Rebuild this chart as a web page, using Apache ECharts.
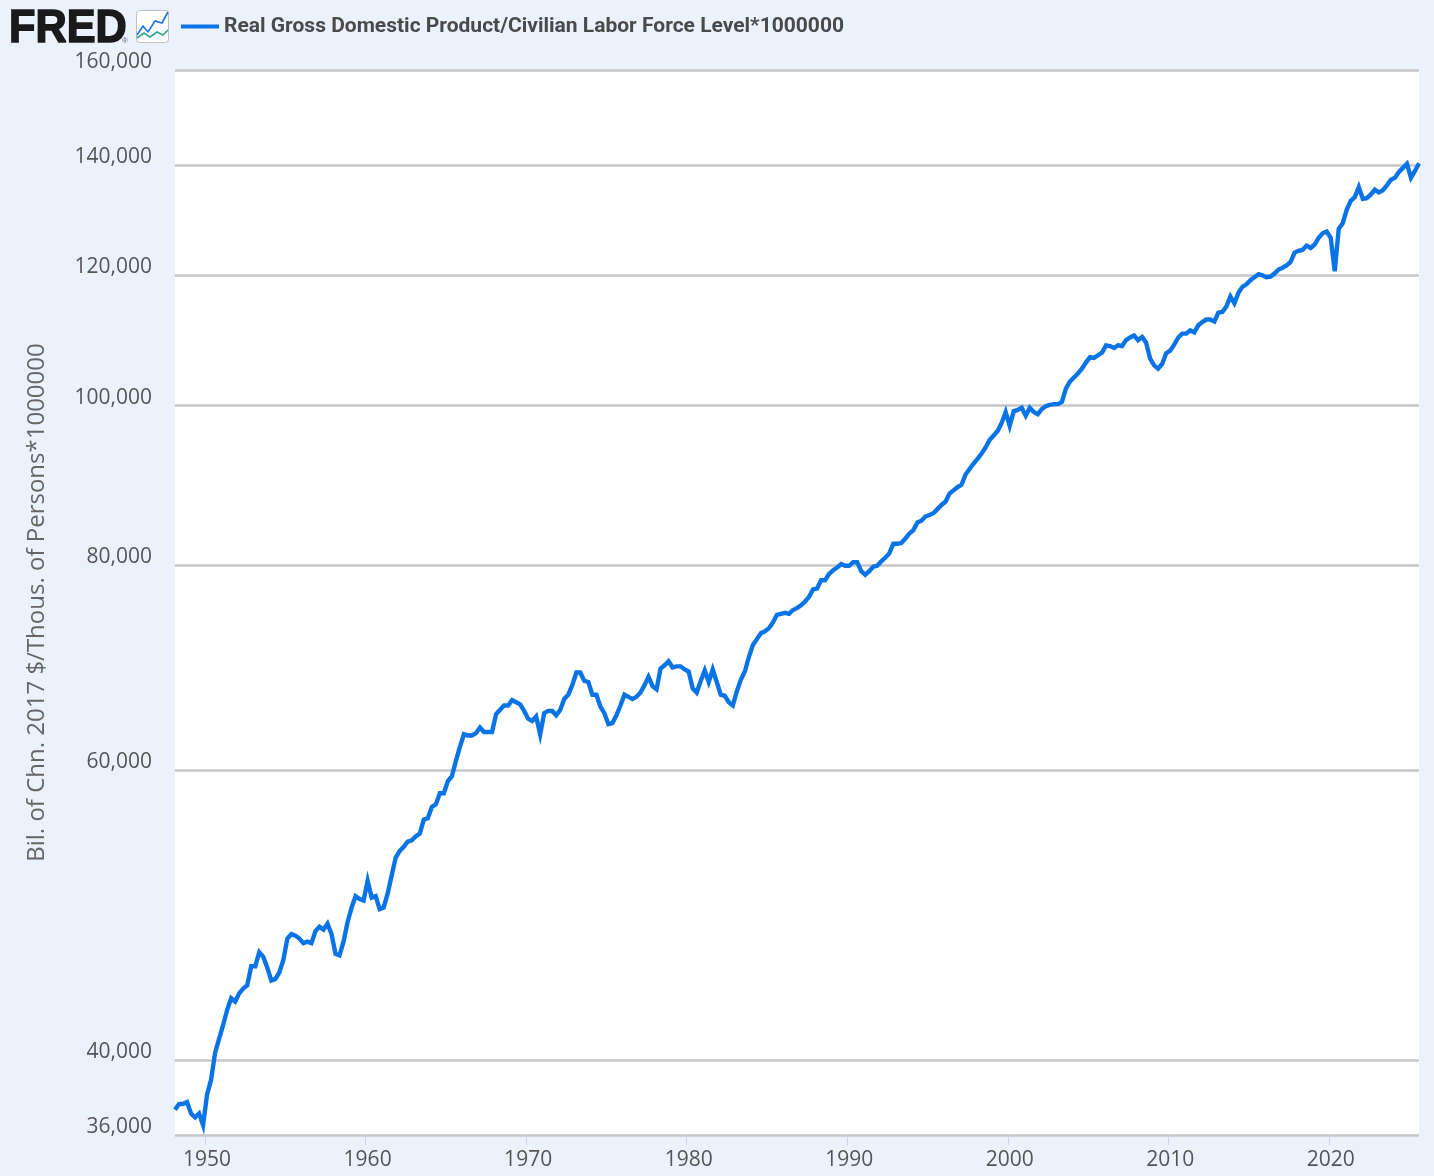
<!DOCTYPE html>
<html>
<head>
<meta charset="utf-8">
<title>FRED chart</title>
<script src="https://cdn.jsdelivr.net/npm/echarts@6/dist/echarts.min.js"></script>
<style>
html,body{margin:0;padding:0;background:#ebf2fb;}
#chart{width:1434px;height:1176px;}
</style>
</head>
<body>
<div id="chart"></div>
<script>
const seriesName = "Real Gross Domestic Product/Civilian Labor Force Level*1000000";
const yAxisName = "Bil. of Chn. 2017 $/Thous. of Persons*1000000";
const yTicks = [36000, 40000, 60000, 80000, 100000, 120000, 140000, 160000];
const xTicks = [1950, 1960, 1970, 1980, 1990, 2000, 2010, 2020];
const firstYear = 1948;
const lastYear = 2025.5;
// Quarterly values, 1948 Q1 onward
const values = [
37300,37600,37600,37700,37100,36900,37100,36500,38100,38900,
40400,41200,42000,42900,43600,43400,43900,44200,44400,45600,
45600,46500,46200,45500,44700,44800,45200,46000,47400,47700,
47600,47400,47100,47200,47100,47900,48200,48000,48400,47700,
46400,46300,47200,48500,49500,50300,50100,50000,51400,50200,
50300,49400,49500,50500,51800,53100,53600,53900,54300,54400,
54700,54900,56000,56100,57000,57200,58100,58100,59100,59500,
60800,62000,63100,63000,63000,63200,63700,63300,63300,63300,
64900,65300,65700,65700,66200,66000,65800,65200,64500,64300,
64700,63100,65000,65200,65200,64800,65300,66300,66700,67600,
68800,68800,68000,67900,66700,66700,65600,65000,64000,64100,
64800,65700,66700,66500,66300,66500,66900,67600,68400,67500,
67200,69200,69500,69900,69300,69400,69400,69100,68900,67300,
66900,68000,69000,67900,69100,67900,66700,66600,66000,65700,
67000,68100,68900,70300,71500,72100,72700,72900,73200,73800,
74600,74700,74800,74700,75100,75300,75600,76000,76500,77300,
77400,78300,78300,79000,79400,79700,80100,79900,79900,80300,
80300,79300,78900,79300,79800,79900,80400,80800,81300,82400,
82400,82500,83000,83600,84000,84900,85100,85600,85800,86000,
86500,87000,87400,88400,88800,89200,89500,90800,91500,92200,
92800,93500,94300,95300,95900,96500,97600,99100,97200,99200,
99400,99700,98600,99700,99100,98800,99500,99900,100100,100200,
100200,100500,102400,103400,104000,104600,105300,106200,107000,106900,
107300,107700,108800,108700,108400,108800,108700,109600,110000,110300,
109600,110100,109200,106800,105800,105300,106000,107600,108000,108900,
110000,110600,110600,111100,110800,111900,112400,112800,112800,112500,
113900,114000,114900,116500,115400,117100,118100,118500,119200,119700,
120200,120000,119700,119800,120300,121000,121300,121700,122300,123900,
124200,124400,125100,124700,125300,126500,127300,127600,126500,120700,
128100,129100,131600,133200,133900,135800,133600,133700,134400,135300,
134800,135200,136100,137200,137600,138700,139500,140300,137600,138900,
140400
];

const points = values.map((v, i) => [firstYear + i / 4, v]);
const pageBg = "#ebf2fb", gridGrey = "#c6c6c6", lineBlue = "#0a74e6", textGrey = "#555555";

const chart = echarts.init(document.getElementById("chart"), null, {renderer: "canvas"});
chart.setOption({
  animation: false,
  backgroundColor: pageBg,
  grid: {left: 175, right: 15, top: 70, bottom: 41, show: true, backgroundColor: "#ffffff", borderWidth: 0},
  legend: {
    show: true, left: 176, top: 11,
    itemWidth: 38, itemHeight: 4, itemGap: 8,
    icon: "rect",
    data: [seriesName],
    textStyle: {fontFamily: "Roboto", fontWeight: "bold", fontSize: 21, color: "#4a4a4a"}
  },
  xAxis: {
    type: "value", min: firstYear, max: lastYear,
    splitLine: {show: false},
    axisLine: {show: false},
    axisTick: {show: true, length: 10, lineStyle: {color: "#ccd6eb", width: 1},
      customValues: xTicks.map(y => y - 0.12)},
    axisLabel: {customValues: xTicks, margin: 15, formatter: v => String(v),
      fontFamily: "Open Sans", fontSize: 21, color: textGrey, hideOverlap: false, showMinLabel: true, showMaxLabel: true}
  },
  yAxis: {
    type: "log", logBase: 10, min: 36000, max: 160000,
    name: yAxisName, nameLocation: "middle", nameGap: 126, nameRotate: 90,
    nameTextStyle: {fontFamily: "Open Sans", fontSize: 24, color: "#666666"},
    axisLine: {show: false},
    axisTick: {show: false, customValues: yTicks},
    splitLine: {show: true, lineStyle: {color: gridGrey, width: 2.6}},
    axisLabel: {customValues: yTicks, margin: 23, verticalAlign: "bottom", lineHeight: 16,
      formatter: v => Math.round(v).toLocaleString("en-US"),
      fontFamily: "Open Sans", fontSize: 21, color: textGrey}
  },
  graphic: [
    {type: "text", x: 9, y: 6, scaleX: 0.94, style: {text: "FRED", fontFamily: "Liberation Sans", fontWeight: "bold", fontSize: 46,
      fill: "#1a1a1a", stroke: "#1a1a1a", lineWidth: 1.6}},
    {type: "text", x: 122, y: 37, style: {text: "®", fontFamily: "Liberation Sans", fontSize: 8, fill: "#666666"}},
    {type: "rect", shape: {x: 136.5, y: 10.5, width: 32, height: 32, r: 3},
      style: {fill: "#ffffff", stroke: "#bfbfbf", lineWidth: 1}},
    {type: "polyline", shape: {points: [[137,35],[143,26],[148,32],[155,21],[162,23],[168,12]]},
      style: {fill: "none", stroke: "#1a73d9", lineWidth: 1.6}},
    {type: "polyline", shape: {points: [[137,38],[144,33],[150,37],[157,32],[163,35],[168,30]]},
      style: {fill: "none", stroke: "#2fa58e", lineWidth: 1.6}}
  ],
  series: [{
    name: seriesName, type: "line", data: points,
    showSymbol: false, symbol: "none", smooth: false,
    lineStyle: {color: lineBlue, width: 4.4, join: "miter", miterLimit: 6},
    itemStyle: {color: lineBlue},
    silent: true
  }]
});
</script>
</body>
</html>
